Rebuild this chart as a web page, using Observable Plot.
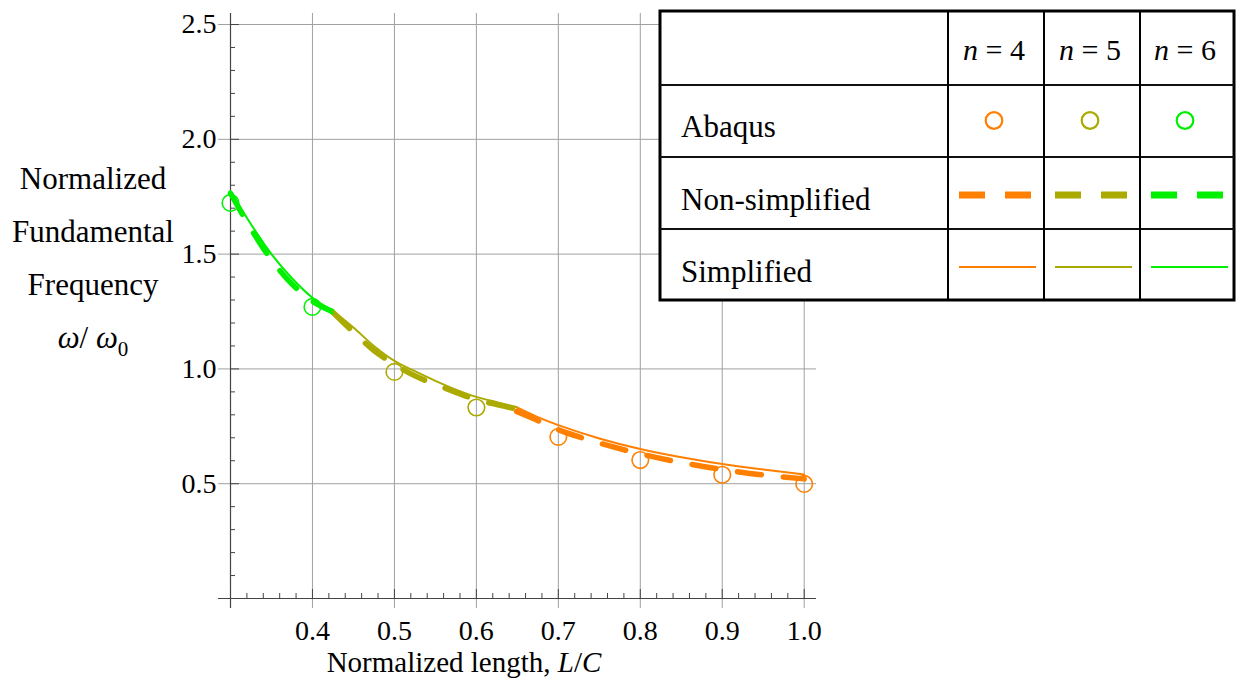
<!DOCTYPE html>
<html><head><meta charset="utf-8">
<script src="https://cdn.jsdelivr.net/npm/d3@7"></script>
<script src="https://cdn.jsdelivr.net/npm/@observablehq/plot@0.6"></script>
<style>
body{margin:0;background:#fff;}
#wrap{position:relative;width:1241px;height:692px;}
</style></head><body><div id="wrap"></div>
<script>
// ---- data ----
const seriesLabels = ["n = 4", "n = 5", "n = 6"];
const seriesColors = ["#FF8000", "#AAAA00", "#00F000"];

// n = 6 segment
const x6 = [0.30, 0.325, 0.35, 0.375, 0.40, 0.424];
const simplified6 = [1.775, 1.63, 1.50, 1.395, 1.31, 1.255];
const nonSimplified6 = [1.765, 1.61, 1.475, 1.37, 1.295, 1.25];
// n = 5 segment
const x5 = [0.424, 0.45, 0.475, 0.50, 0.525, 0.55, 0.575, 0.60, 0.625, 0.649];
const simplified5 = [1.255, 1.18, 1.10, 1.035, 0.99, 0.948, 0.91, 0.878, 0.855, 0.834];
const nonSimplified5 = [1.25, 1.16, 1.08, 1.02, 0.97, 0.932, 0.898, 0.866, 0.845, 0.825];
// n = 4 segment
const x4 = [0.649, 0.675, 0.70, 0.75, 0.80, 0.85, 0.90, 0.95, 1.00];
const simplified4 = [0.833, 0.79, 0.755, 0.697, 0.651, 0.615, 0.586, 0.562, 0.540];
const nonSimplified4 = [0.815, 0.775, 0.735, 0.677, 0.630, 0.592, 0.562, 0.538, 0.521];
// Abaqus points
const abaqusX6 = [0.3, 0.4];
const abaqusY6 = [1.723, 1.270];
const abaqusX5 = [0.5, 0.6];
const abaqusY5 = [0.987, 0.832];
const abaqusX4 = [0.7, 0.8, 0.9, 1.0];
const abaqusY4 = [0.704, 0.603, 0.539, 0.499];

// ticks
const xMajor = [0.4, 0.5, 0.6, 0.7, 0.8, 0.9, 1.0];
const xMinor = d3.range(16, 50).map(i => i / 50).filter(v => Math.round(v * 100) % 10 !== 0);
const yMajor = [0.5, 1.0, 1.5, 2.0, 2.5];
const yMinor = d3.range(1, 25).map(i => i / 10).filter(v => Math.round(v * 10) % 5 !== 0);

const legendRows = ["Abaqus", "Non-simplified", "Simplified"];

// ---- build tables ----
const segs = [
  {n: "n = 4", x: x4, s: simplified4, ns: nonSimplified4, ax: abaqusX4, ay: abaqusY4},
  {n: "n = 5", x: x5, s: simplified5, ns: nonSimplified5, ax: abaqusX5, ay: abaqusY5},
  {n: "n = 6", x: x6, s: simplified6, ns: nonSimplified6, ax: abaqusX6, ay: abaqusY6}
];
const simp = [], nonSimp = [], abaqus = [];
for (const g of segs) {
  g.x.forEach((x, i) => { simp.push({n: g.n, x, y: g.s[i]}); nonSimp.push({n: g.n, x, y: g.ns[i]}); });
  g.ax.forEach((x, i) => abaqus.push({n: g.n, x, y: g.ay[i]}));
}

const FONT = '"Liberation Serif", "Times New Roman", serif';
const axisColor = "#444";
const gridColor = "#A0A0A0";
const noText = () => "";

const chart = Plot.plot({
  width: 1241, height: 692,
  marginLeft: 230, marginRight: 425, marginTop: 13, marginBottom: 94,
  x: {domain: [0.3, 1.015]},
  y: {domain: [0, 2.548]},
  color: {domain: seriesLabels, range: seriesColors},
  style: {fontFamily: FONT, fontSize: "28px", color: "#000", background: "#fff", overflow: "visible"},
  marks: [
    Plot.ruleX(xMajor, {stroke: gridColor, strokeWidth: 1, insetBottom: -10}),
    Plot.ruleY(yMajor, {stroke: gridColor, strokeWidth: 1, insetLeft: -12}),
    Plot.ruleY([0], {stroke: axisColor, strokeWidth: 1.2, insetLeft: -12}),
    Plot.ruleX([0.3], {stroke: axisColor, strokeWidth: 1.2, insetBottom: -10}),
    Plot.axisX({ticks: xMinor, tickSize: -5, tickFormat: noText, label: null, stroke: axisColor}),
    Plot.axisX({ticks: xMajor, tickSize: -9, tickFormat: noText, label: null, stroke: axisColor}),
    Plot.axisX({ticks: xMajor, tickSize: 0, tickPadding: 22, tickFormat: d => d.toFixed(1), label: null, fontSize: 28}),
    Plot.axisY({ticks: yMinor, tickSize: -5, tickFormat: noText, label: null, stroke: axisColor}),
    Plot.axisY({ticks: yMajor, tickSize: -9, tickFormat: noText, label: null, stroke: axisColor}),
    Plot.axisY({ticks: yMajor, tickSize: 0, tickPadding: 14, tickFormat: d => d.toFixed(1), label: null, fontSize: 28}),
    Plot.line(nonSimp, {x: "x", y: "y", z: "n", stroke: "n", strokeWidth: 5.5, strokeDasharray: "24,22", curve: "catmull-rom"}),
    Plot.line(simp, {x: "x", y: "y", z: "n", stroke: "n", strokeWidth: 2, curve: "catmull-rom"}),
    Plot.dot(abaqus, {x: "x", y: "y", stroke: "n", r: 8.3, strokeWidth: 1.6, fill: "none"})
  ]
});
document.getElementById("wrap").appendChild(chart);

const svg = d3.select(chart);
const txt = (sel) => sel.style("font-family", FONT).attr("fill", "#000");

// x-axis label
const xl = txt(svg.append("text")).attr("x", 464).attr("y", 672).attr("text-anchor", "middle")
  .style("font-size", "29px");
xl.append("tspan").text("Normalized length, ");
xl.append("tspan").style("font-style", "italic").text("L");
xl.append("tspan").text("/");
xl.append("tspan").style("font-style", "italic").text("C");

// y-axis label
const yLines = ["Normalized", "Fundamental", "Frequency"];
yLines.forEach((t, i) => {
  txt(svg.append("text")).attr("x", 93).attr("y", 189 + 53 * i).attr("text-anchor", "middle")
    .style("font-size", "31px").text(t);
});
const om = txt(svg.append("text")).attr("x", 93).attr("y", 348).attr("text-anchor", "middle")
  .style("font-size", "31px");
om.append("tspan").style("font-style", "italic").text("ω");
om.append("tspan").text("/ ");
om.append("tspan").style("font-style", "italic").text("ω");
om.append("tspan").style("font-size", "21px").attr("dy", 8).text("0");

// legend table
const lg = svg.append("g");
const colX = [948, 1044, 1140, 1234];
lg.append("rect").attr("x", 660).attr("y", 11).attr("width", 574).attr("height", 289)
  .attr("fill", "#fff").attr("stroke", "#000").attr("stroke-width", 3);
[85, 157, 229].forEach(y => lg.append("line").attr("x1", 660).attr("x2", 1234).attr("y1", y).attr("y2", y)
  .attr("stroke", "#111").attr("stroke-width", 2));
[948, 1044, 1140].forEach(x => lg.append("line").attr("x1", x).attr("x2", x).attr("y1", 11).attr("y2", 300)
  .attr("stroke", "#000").attr("stroke-width", 2));
seriesLabels.forEach((lab, i) => {
  const cx = (colX[i] + colX[i + 1]) / 2;
  const t = txt(lg.append("text")).attr("x", cx - 2).attr("y", 60).attr("text-anchor", "middle")
    .style("font-size", "30px");
  t.append("tspan").style("font-style", "italic").text("n");
  t.append("tspan").text(" = " + lab.split("= ")[1]);
  const c = seriesColors[i];
  lg.append("circle").attr("cx", cx - 2).attr("cy", 120.5).attr("r", 8.3).attr("fill", "none")
    .attr("stroke", c).attr("stroke-width", 2.2);
  lg.append("line").attr("x1", colX[i] + 11).attr("x2", colX[i] + 84).attr("y1", 195).attr("y2", 195)
    .attr("stroke", c).attr("stroke-width", 7).attr("stroke-dasharray", "26,20");
  lg.append("line").attr("x1", colX[i] + 11).attr("x2", colX[i] + 88).attr("y1", 267).attr("y2", 267)
    .attr("stroke", c).attr("stroke-width", 2);
});
[137, 210, 282].forEach((y, i) => {
  txt(lg.append("text")).attr("x", 681).attr("y", y).attr("text-anchor", "start")
    .style("font-size", "31px").text(legendRows[i]);
});
</script></body></html>
